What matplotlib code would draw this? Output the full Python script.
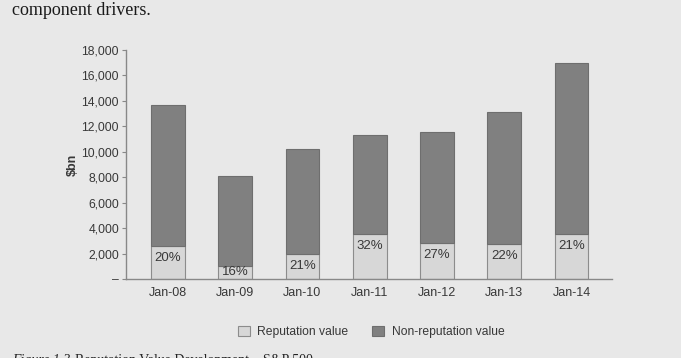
import numpy as np
import matplotlib
matplotlib.use('Agg')
import matplotlib.pyplot as plt

# values ($bn)
years = ['Jan-08', 'Jan-09', 'Jan-10', 'Jan-11', 'Jan-12', 'Jan-13', 'Jan-14']
total = [13700, 8100, 10200, 11350, 11550, 13100, 17000]
reputation = [2600, 1050, 2000, 3500, 2850, 2750, 3500]
pct_labels = ['20%', '16%', '21%', '32%', '27%', '22%', '21%']
non_reputation = [t - r for t, r in zip(total, reputation)]

plt.rcParams['font.family'] = ['Liberation Sans', 'DejaVu Sans']
bg = '#e8e8e8'
txt = '#383838'

fig = plt.figure(figsize=(6.81, 3.58), dpi=100)
fig.patch.set_facecolor(bg)
ax = fig.add_axes([0.185, 0.2207, 0.7137, 0.6396])
ax.set_facecolor(bg)

x = np.arange(len(years))
ax.bar(x, reputation, width=0.5, color='#d7d7d7', edgecolor='#8c8c8c',
       linewidth=0.8, label='Reputation value', zorder=2)
ax.bar(x, non_reputation, width=0.5, bottom=reputation, color='#808080',
       edgecolor='#6e6e6e', linewidth=0.8, label='Non-reputation value', zorder=2)

for i, r in enumerate(reputation):
    ylab = max(r - 943, r / 2)
    ax.text(x[i], ylab, pct_labels[i], ha='center', va='center',
            fontsize=9.5, color=txt, zorder=3)

ax.set_xlim(-0.62, 6.6)
ax.set_ylim(0, 18000)
ax.set_xticks(x)
ax.set_xticklabels(years)
yt = np.arange(0, 18001, 2000)
ax.set_yticks(yt)
ax.set_yticklabels(['–'] + [f'{v:,}' for v in yt[1:]])
ax.tick_params(axis='y', length=3, width=0.8, color='#888888',
               labelsize=8.7, labelcolor=txt, pad=2)
ax.tick_params(axis='x', length=0, labelsize=9, labelcolor=txt, pad=6)
for s in ['top', 'right']:
    ax.spines[s].set_visible(False)
for s in ['left', 'bottom']:
    ax.spines[s].set_color('#888888')
    ax.spines[s].set_linewidth(1.0)
ax.set_ylabel('$bn', fontsize=9, fontweight='bold', color=txt, labelpad=2)

fig.legend(loc='center', bbox_to_anchor=(0.545, 0.073), ncol=2, frameon=False,
           fontsize=8.7, handlelength=1.0, handleheight=1.0, columnspacing=2.0,
           handletextpad=0.6, labelcolor=txt)

fig.text(0.018, 0.994, 'component drivers.', family='Liberation Serif',
         fontsize=13, color='#1a1a1a', va='top', ha='left')
fig.text(0.018, 0.012, 'Figure 1.3 ', family='Liberation Serif', style='italic',
         fontsize=10, color='#222222', va='top', ha='left')
fig.text(0.11, 0.012, 'Reputation Value Development – S&P 500',
         family='Liberation Serif', fontsize=10, color='#222222', va='top', ha='left')

fig.savefig('out.png', dpi=100, facecolor=bg)
